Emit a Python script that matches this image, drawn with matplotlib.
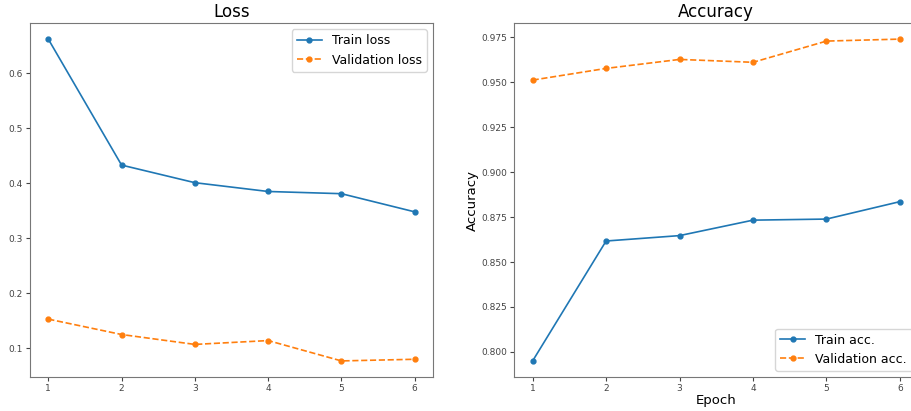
import matplotlib.pyplot as plt

epochs = [1, 2, 3, 4, 5, 6]
train_loss = [0.662, 0.433, 0.401, 0.385, 0.381, 0.348]
val_loss = [0.153, 0.125, 0.107, 0.114, 0.077, 0.080]
train_acc = [0.795, 0.8617, 0.8647, 0.8733, 0.8739, 0.8836]
val_acc = [0.9512, 0.9577, 0.9627, 0.9611, 0.9729, 0.9740]

fig = plt.figure(figsize=(9.11, 4.11), dpi=100)
ax1 = fig.add_axes([0.0329, 0.0827, 0.4424, 0.8613])
ax2 = fig.add_axes([0.5645, 0.0827, 0.4435, 0.8613])

ax1.plot(epochs, train_loss, marker='o', markersize=3.5, linewidth=1.2, label='Train loss')
ax1.plot(epochs, val_loss, marker='o', markersize=3.5, linewidth=1.2, linestyle='--', label='Validation loss')
ax1.set_title('Loss', fontsize=12, pad=4)
ax1.legend(loc='upper right', fontsize=9)

ax2.plot(epochs, train_acc, marker='o', markersize=3.5, linewidth=1.2, label='Train acc.')
ax2.plot(epochs, val_acc, marker='o', markersize=3.5, linewidth=1.2, linestyle='--', label='Validation acc.')
ax2.set_title('Accuracy', fontsize=12, pad=4)
ax2.set_xlabel('Epoch', fontsize=9.5, labelpad=1)
ax2.set_ylabel('Accuracy', fontsize=9.5, labelpad=2)
ax2.legend(loc='lower right', fontsize=9)

for ax in (ax1, ax2):
    ax.set_xticks(epochs)
    ax.tick_params(labelsize=6.5, colors='#444', length=3, pad=2)
    for s in ax.spines.values():
        s.set_color('#777')

fig.savefig('out.png')
